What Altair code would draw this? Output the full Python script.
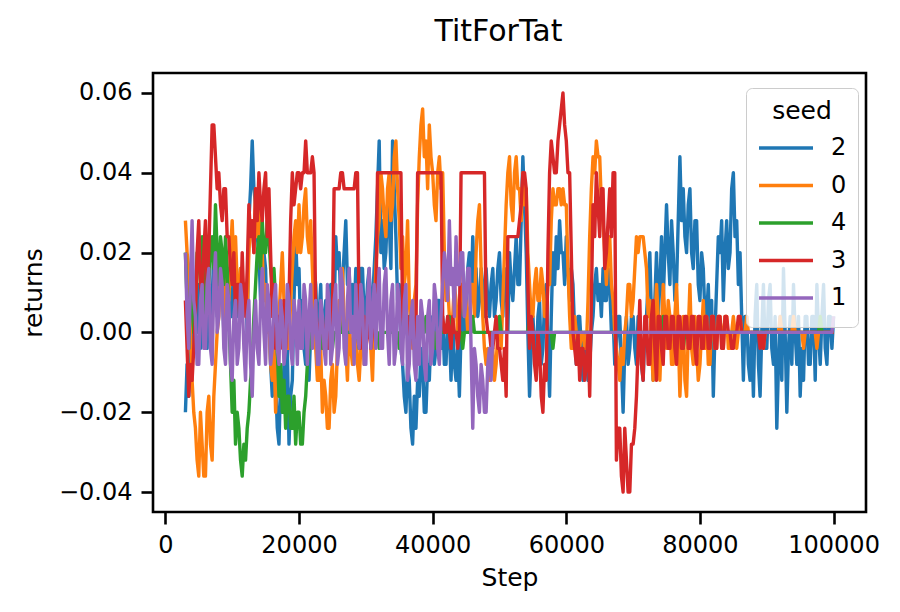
import altair as alt
import pandas as pd

steps = list(range(3000, 100001, 250))

seed_2 = [
    -0.020, -0.008, -0.016, -0.004, 0.004, -0.004, 0.008, 0.000, 0.012, -0.004, 0.004, 0.016, 0.008, -0.004, 0.012, 0.004, 0.008, 0.020, 0.016, 0.004,
    0.008, 0.020, 0.012, 0.000, 0.004, 0.012, 0.016, 0.004, 0.004, 0.020, 0.016, 0.004, 0.008, 0.016, 0.004, 0.012, 0.012, 0.000, 0.028, 0.036,
    0.048, 0.036, 0.032, 0.024, 0.020, 0.008, 0.012, 0.020, 0.016, 0.000, 0.004, -0.008, -0.016, -0.004, -0.012, -0.024, -0.028, -0.012, -0.020, -0.008,
    -0.016, -0.004, -0.028, -0.016, -0.012, 0.008, 0.024, 0.012, 0.016, 0.000, 0.008, -0.004, -0.008, 0.004, -0.012, 0.000, 0.008, 0.016, 0.012, 0.000,
    0.004, 0.012, -0.004, 0.004, 0.008, -0.004, 0.004, 0.012, 0.012, 0.004, 0.024, 0.016, 0.020, 0.008, 0.012, 0.020, 0.028, 0.012, 0.016, 0.004,
    0.012, 0.004, 0.016, 0.008, 0.008, 0.016, 0.016, 0.004, 0.004, 0.012, 0.016, 0.004, 0.008, 0.016, 0.024, 0.036, 0.048, 0.020, 0.028, 0.016,
    0.020, 0.032, 0.028, 0.016, 0.048, 0.036, 0.024, 0.008, 0.012, -0.004, -0.008, -0.016, -0.020, -0.008, -0.012, -0.024, -0.028, -0.016, -0.024, -0.012,
    -0.016, -0.004, -0.008, -0.020, -0.020, -0.008, -0.012, 0.000, 0.004, -0.008, -0.004, 0.008, 0.008, -0.004, 0.004, -0.008, -0.008, 0.004, 0.000, -0.012,
    0.004, -0.008, -0.012, -0.004, -0.016, 0.000, 0.012, 0.000, 0.004, 0.016, 0.020, 0.008, 0.024, 0.012, 0.016, 0.004, 0.008, 0.016, 0.012, 0.004,
    0.016, 0.008, 0.004, 0.012, 0.016, 0.004, 0.008, 0.016, 0.020, 0.008, 0.004, 0.016, 0.012, 0.000, 0.020, 0.012, 0.008, 0.016, 0.024, 0.012,
    0.012, 0.028, 0.044, 0.032, 0.020, 0.000, -0.016, -0.004, 0.004, -0.004, -0.008, 0.004, 0.008, -0.008, -0.004, 0.008, 0.012, -0.004, -0.016, 0.004,
    0.020, 0.012, 0.024, 0.016, 0.028, 0.020, 0.020, 0.012, 0.024, 0.016, 0.008, 0.016, 0.012, 0.000, -0.008, 0.004, 0.004, -0.004, -0.012, 0.000,
    -0.004, -0.012, -0.008, 0.000, 0.004, 0.012, 0.016, 0.008, 0.012, 0.004, 0.016, 0.008, 0.008, 0.016, 0.012, 0.000, 0.004, -0.008, -0.004, 0.004,
    0.004, -0.008, -0.020, -0.004, 0.004, -0.008, -0.004, 0.004, 0.004, -0.004, -0.008, 0.004, 0.004, -0.008, -0.012, 0.000, 0.004, 0.012, 0.020, 0.004,
    -0.012, 0.008, 0.020, 0.004, 0.012, 0.024, 0.008, 0.020, 0.032, 0.020, 0.012, 0.028, 0.020, 0.008, 0.012, 0.028, 0.044, 0.028, 0.036, 0.024,
    0.020, 0.032, 0.036, 0.020, 0.016, 0.028, 0.028, 0.012, 0.008, 0.020, 0.016, 0.004, 0.004, 0.012, -0.004, 0.008, -0.016, 0.000, 0.012, 0.024,
    0.020, 0.028, 0.008, 0.020, 0.028, 0.016, 0.020, 0.036, 0.040, 0.024, 0.028, 0.012, 0.020, 0.004, -0.012, 0.004, 0.004, -0.008, -0.012, 0.000,
    -0.016, 0.004, 0.012, -0.008, -0.016, 0.000, 0.012, -0.004, -0.004, 0.008, 0.012, -0.004, -0.008, 0.004, -0.024, -0.008, 0.004, -0.012, 0.016, 0.000,
    -0.020, -0.004, 0.004, -0.008, 0.012, 0.000, -0.008, 0.004, -0.016, -0.004, -0.012, 0.004, 0.004, -0.008, -0.008, 0.004, 0.004, -0.012, 0.012, 0.000,
    -0.008, 0.004, 0.012, -0.004, -0.008, 0.004, 0.004, -0.004, 0.004,
]

seed_0 = [
    0.028, 0.020, 0.016, 0.000, -0.012, -0.020, -0.024, -0.032, -0.036, -0.020, -0.028, -0.036, -0.036, -0.020, -0.016, -0.028, -0.032, -0.016, -0.008, 0.000,
    0.004, 0.016, 0.012, 0.004, 0.020, 0.012, 0.008, 0.020, 0.028, 0.016, 0.024, 0.012, 0.008, 0.016, 0.004, 0.012, 0.012, 0.004, 0.020, 0.028,
    0.028, 0.020, 0.036, 0.024, 0.032, 0.016, 0.020, 0.008, 0.012, 0.000, 0.004, -0.008, -0.012, -0.004, -0.020, -0.008, 0.004, 0.012, 0.020, 0.008,
    0.008, -0.004, -0.004, 0.008, 0.016, 0.024, 0.028, 0.020, 0.032, 0.020, 0.024, 0.032, 0.036, 0.024, 0.020, 0.028, 0.016, 0.004, -0.004, -0.012,
    -0.012, -0.004, -0.020, -0.012, -0.016, -0.024, -0.024, -0.012, -0.008, -0.020, -0.016, -0.004, 0.008, 0.000, 0.016, 0.004, -0.004, -0.012, 0.004, -0.004,
    -0.008, 0.000, 0.004, -0.008, -0.012, -0.004, 0.004, -0.008, -0.004, 0.004, 0.008, -0.004, -0.012, 0.004, 0.016, 0.024, 0.028, 0.040, 0.036, 0.028,
    0.024, 0.036, 0.040, 0.028, 0.032, 0.044, 0.048, 0.036, 0.028, 0.016, 0.024, 0.012, 0.016, 0.028, 0.008, 0.000, -0.004, 0.008, 0.012, 0.032,
    0.044, 0.052, 0.056, 0.044, 0.048, 0.036, 0.052, 0.044, 0.040, 0.032, 0.028, 0.040, 0.044, 0.036, 0.040, 0.020, 0.008, 0.012, 0.004, 0.000,
    0.004, 0.012, 0.008, 0.000, 0.004, 0.012, 0.012, 0.004, 0.008, 0.000, 0.004, 0.012, 0.012, 0.004, 0.020, 0.028, 0.032, 0.016, 0.004, -0.004,
    -0.008, -0.004, -0.012, -0.004, -0.004, -0.012, -0.008, 0.000, 0.004, -0.004, 0.008, 0.020, 0.032, 0.040, 0.044, 0.032, 0.028, 0.040, 0.044, 0.036,
    0.036, 0.028, 0.040, 0.032, 0.036, 0.020, 0.012, 0.004, 0.004, 0.012, 0.016, 0.008, 0.008, 0.016, 0.012, 0.004, 0.004, 0.012, 0.012, 0.028,
    0.036, 0.032, 0.032, 0.036, 0.036, 0.032, 0.036, 0.032, 0.032, 0.016, 0.004, -0.004, -0.004, 0.004, 0.000, -0.004, -0.004, 0.000, 0.000, -0.004,
    -0.004, 0.008, 0.024, 0.036, 0.044, 0.040, 0.048, 0.044, 0.044, 0.032, 0.028, 0.020, 0.012, 0.020, 0.024, 0.012, 0.008, 0.000, -0.004, -0.008,
    -0.012, -0.004, -0.008, 0.000, 0.004, 0.012, 0.012, 0.004, 0.008, 0.016, 0.024, 0.020, 0.024, 0.024, 0.024, 0.020, 0.016, 0.004, 0.008, -0.004,
    -0.012, 0.000, 0.012, 0.004, -0.012, 0.000, 0.012, 0.004, -0.004, 0.008, 0.004, -0.008, -0.008, 0.004, 0.012, 0.000, -0.016, -0.004, 0.004, -0.012,
    -0.016, 0.000, 0.012, -0.004, -0.008, 0.004, -0.004, -0.012, -0.008, 0.000, 0.008, -0.004, 0.004, -0.008, -0.008, 0.004, 0.004, -0.004, -0.004, 0.004,
    0.004, 0.000, -0.004, 0.004, 0.004, -0.004, -0.004, 0.000, 0.004, 0.000, -0.004, 0.000, 0.004, 0.000, 0.000, 0.000, 0.004, 0.000, 0.000, 0.000,
    0.000, 0.000, 0.000, 0.000, 0.000, 0.000, -0.004, 0.000, 0.000, 0.000, 0.000, 0.000, 0.000, 0.000, 0.000, 0.000, 0.004, 0.000, 0.000, 0.000,
    0.000, 0.000, 0.000, 0.000, 0.004, 0.000, 0.000, 0.000, 0.000, 0.000, -0.004, 0.000, 0.000, 0.000, 0.000, 0.000, 0.000, 0.000, -0.004, 0.000,
    0.000, 0.000, 0.000, 0.000, 0.000, 0.000, 0.000, 0.000, 0.000,
]

seed_4 = [
    0.020, 0.008, -0.004, 0.008, 0.016, 0.000, 0.008, 0.020, 0.020, 0.012, 0.024, 0.012, 0.004, 0.016, 0.012, 0.020, 0.024, 0.016, 0.032, 0.020,
    0.012, 0.024, 0.020, 0.012, 0.024, 0.016, 0.004, -0.008, -0.020, -0.012, -0.028, -0.020, -0.024, -0.032, -0.036, -0.028, -0.032, -0.024, -0.020, -0.012,
    -0.008, 0.004, 0.012, 0.020, 0.024, 0.016, 0.028, 0.020, 0.020, 0.028, 0.024, 0.016, 0.012, 0.016, 0.008, -0.004, -0.016, -0.008, -0.020, -0.012,
    -0.024, -0.016, -0.016, -0.024, -0.024, -0.016, -0.028, -0.020, -0.020, -0.028, -0.028, -0.020, -0.016, -0.008, -0.004, 0.000, 0.004, 0.000, 0.000, 0.000,
    0.000, 0.000, -0.004, 0.000, 0.000, 0.000, 0.004, 0.000, -0.004, 0.000, 0.000, 0.000, 0.004, 0.000, 0.000, 0.000, 0.000, 0.000, 0.000, 0.000,
    0.000, 0.000, 0.000, 0.000, -0.004, 0.000, 0.000, 0.000, 0.000, 0.000, 0.004, 0.000, 0.000, 0.000, 0.000, 0.000, -0.004, 0.000, 0.000, 0.000,
    0.000, 0.000, 0.004, 0.000, 0.000, 0.000, 0.000, 0.000, -0.004, 0.000, 0.000, 0.000, 0.000, 0.000, 0.004, 0.000, 0.000, 0.000, 0.000, 0.000,
    0.000, 0.000, 0.000, 0.000, 0.004, 0.000, 0.000, 0.000, 0.000, 0.000, -0.004, 0.000, 0.000, 0.000, 0.000, 0.000, 0.000, 0.000, 0.004, 0.000,
    0.000, 0.000, 0.000, 0.000, 0.000, 0.000, -0.004, 0.000, 0.000, 0.000, 0.000, 0.000, 0.004, 0.000, 0.000, 0.000, 0.000, 0.000, 0.000, 0.000,
    0.000, 0.000, 0.000, 0.000, 0.000, 0.000, 0.000, 0.000, 0.004, 0.000, 0.000, 0.000, 0.000, 0.000, 0.000, 0.000, 0.000, 0.000, 0.000, 0.000,
    0.000, 0.000, 0.000, 0.000, 0.000, 0.000, 0.004, 0.000, 0.000, 0.000, 0.000, 0.000, 0.000, 0.000, 0.000, 0.000, 0.000, 0.000, 0.000, 0.000,
    -0.004, 0.000, 0.000, 0.000, 0.000, 0.000, 0.000, 0.000, 0.000, 0.000, 0.000, 0.000, 0.000, 0.000, 0.000, 0.000, 0.000, 0.000, 0.000, 0.000,
    0.000, 0.000, 0.000, 0.000, 0.000, 0.000, 0.000, 0.000, 0.000, 0.000, 0.000, 0.000, 0.000, 0.000, 0.000, 0.000, 0.000, 0.000, 0.000, 0.000,
    0.000, 0.000, 0.000, 0.000, 0.000, 0.000, 0.000, 0.000, 0.000, 0.000, 0.000, 0.000, 0.000, 0.000, 0.000, 0.000, 0.000, 0.000, 0.000, 0.000,
    0.000, 0.000, 0.000, 0.000, 0.000, 0.000, 0.004, 0.000, 0.000, 0.000, 0.000, 0.000, 0.000, 0.000, 0.000, 0.000, 0.000, 0.000, -0.004, 0.000,
    0.000, 0.000, 0.000, 0.000, 0.000, 0.000, 0.000, 0.000, 0.000, 0.000, 0.000, 0.000, 0.000, 0.000, 0.000, 0.000, 0.000, 0.000, 0.000, 0.000,
    0.000, 0.000, 0.000, 0.000, 0.000, 0.000, 0.000, 0.000, 0.000, 0.000, 0.000, 0.000, 0.000, 0.000, 0.000, 0.000, 0.000, 0.000, 0.000, 0.000,
    0.000, 0.000, 0.000, 0.000, 0.000, 0.000, 0.000, 0.000, 0.000, 0.000, 0.000, 0.000, 0.000, 0.000, 0.000, 0.000, 0.000, 0.000, 0.000, 0.000,
    0.000, 0.000, 0.000, 0.000, 0.000, 0.000, 0.000, 0.000, 0.000, 0.000, 0.000, 0.000, 0.000, 0.000, 0.000, 0.000, 0.000, 0.000, 0.000, 0.000,
    0.004, 0.000, 0.000, 0.000, 0.000, 0.000, 0.000, 0.000, 0.000,
]

seed_3 = [
    0.008, -0.004, -0.016, -0.008, -0.012, -0.004, 0.004, 0.020, 0.028, 0.012, 0.008, 0.020, 0.028, 0.012, 0.020, 0.036, 0.052, 0.052, 0.044, 0.036,
    0.040, 0.032, 0.028, 0.036, 0.036, 0.024, 0.024, 0.016, 0.012, 0.020, 0.004, 0.012, 0.012, 0.004, 0.020, 0.008, 0.004, 0.016, 0.032, 0.024,
    0.028, 0.020, 0.036, 0.028, 0.040, 0.032, 0.028, 0.036, 0.040, 0.024, 0.036, 0.020, 0.004, 0.012, -0.004, 0.004, 0.004, -0.004, 0.000, 0.008,
    -0.004, 0.004, 0.008, 0.028, 0.040, 0.032, 0.036, 0.040, 0.040, 0.036, 0.040, 0.040, 0.048, 0.040, 0.040, 0.040, 0.044, 0.040, 0.004, 0.000,
    0.000, 0.004, 0.004, -0.004, 0.000, 0.004, -0.004, 0.000, 0.004, 0.036, 0.036, 0.036, 0.036, 0.040, 0.040, 0.036, 0.036, 0.036, 0.036, 0.036,
    0.036, 0.036, 0.040, 0.040, 0.004, -0.004, 0.000, 0.004, -0.004, 0.000, 0.004, -0.004, 0.000, 0.004, 0.004, 0.040, 0.040, 0.040, 0.040, 0.040,
    0.040, 0.040, 0.040, 0.040, 0.040, 0.040, 0.040, 0.040, 0.040, 0.040, 0.004, 0.000, 0.000, 0.004, -0.004, 0.000, 0.004, -0.004, 0.000, 0.040,
    0.040, 0.040, 0.040, 0.040, 0.040, 0.040, 0.040, 0.040, 0.040, 0.040, 0.040, 0.040, 0.040, 0.040, 0.004, 0.000, 0.000, 0.004, 0.000, -0.004,
    0.004, 0.000, 0.000, -0.004, 0.000, 0.040, 0.040, 0.040, 0.040, 0.040, 0.040, 0.040, 0.040, 0.040, 0.040, 0.040, 0.040, 0.040, 0.040, 0.040,
    0.004, 0.000, 0.000, -0.004, -0.004, 0.000, 0.004, -0.004, -0.004, -0.008, -0.012, -0.004, -0.016, 0.024, 0.024, 0.024, 0.024, 0.024, 0.024, 0.024,
    0.028, 0.032, 0.040, 0.040, 0.036, 0.012, -0.004, 0.004, 0.000, -0.008, -0.012, 0.000, -0.004, -0.016, -0.020, -0.008, -0.012, 0.020, 0.040, 0.048,
    0.044, 0.040, 0.040, 0.048, 0.052, 0.056, 0.060, 0.052, 0.048, 0.040, 0.040, 0.020, 0.000, -0.004, -0.008, 0.000, -0.012, -0.004, -0.004, -0.012,
    -0.008, 0.000, -0.016, 0.008, 0.032, 0.024, 0.040, 0.032, 0.024, 0.036, 0.036, 0.016, 0.020, 0.028, 0.036, 0.024, 0.040, 0.040, -0.032, -0.024,
    -0.024, -0.036, -0.040, -0.024, -0.032, -0.040, -0.040, -0.028, -0.028, -0.024, -0.016, -0.004, 0.008, -0.008, -0.012, 0.004, 0.004, -0.008, -0.008, 0.004,
    0.008, -0.004, -0.012, 0.004, 0.004, -0.004, -0.008, 0.004, 0.004, -0.004, -0.004, 0.004, 0.004, -0.004, -0.008, 0.004, 0.004, -0.004, -0.004, 0.004,
    0.004, -0.004, -0.004, 0.004, 0.004, -0.004, -0.008, 0.004, 0.004, -0.004, -0.004, 0.004, 0.004, -0.004, -0.004, 0.004, 0.004, -0.004, -0.004, 0.004,
    0.004, -0.004, -0.004, 0.004, 0.004, 0.000, 0.000, -0.004, -0.004, 0.000, 0.000, 0.004, 0.004, 0.000, 0.000, 0.000, 0.000, 0.000, 0.000, 0.000,
    0.000, 0.000, 0.000, 0.000, -0.004, 0.000, -0.004, 0.000, 0.000, 0.000, 0.000, 0.000, 0.000, 0.000, 0.000, 0.000, 0.000, 0.000, 0.000, 0.000,
    0.000, 0.000, 0.000, 0.000, 0.000, 0.000, 0.000, 0.000, 0.000, 0.000, 0.000, 0.000, 0.000, 0.000, 0.000, 0.000, 0.000, 0.000, 0.000, 0.000,
    0.000, 0.000, 0.000, 0.000, 0.000, 0.000, 0.000, 0.000, 0.000,
]

seed_1 = [
    0.020, 0.004, -0.004, 0.012, 0.028, 0.008, 0.004, -0.008, -0.008, 0.008, 0.012, -0.004, -0.004, 0.012, 0.016, -0.004, -0.008, 0.012, 0.020, 0.000,
    0.004, 0.016, 0.012, -0.004, -0.008, 0.012, 0.008, -0.008, -0.012, 0.004, 0.008, -0.008, -0.004, 0.012, 0.008, -0.004, -0.012, 0.004, 0.008, -0.008,
    -0.016, 0.000, 0.008, -0.004, -0.008, 0.008, 0.016, 0.000, -0.008, 0.012, 0.008, -0.008, -0.004, 0.008, 0.012, -0.004, -0.008, 0.008, 0.004, -0.008,
    -0.004, 0.012, 0.008, -0.004, -0.008, 0.008, 0.004, -0.008, 0.008, -0.004, -0.004, 0.012, 0.008, -0.008, 0.004, 0.012, -0.004, 0.004, 0.008, -0.008,
    -0.008, 0.008, 0.004, -0.004, -0.008, 0.012, 0.008, -0.008, -0.004, 0.008, 0.012, -0.008, -0.004, 0.016, 0.012, -0.004, -0.008, 0.008, 0.016, 0.000,
    0.004, -0.008, 0.012, 0.000, -0.004, 0.012, 0.008, -0.008, -0.008, 0.008, 0.016, -0.004, 0.004, 0.012, -0.004, 0.008, 0.016, -0.004, -0.004, 0.012,
    0.016, 0.000, -0.008, 0.008, 0.012, -0.008, -0.004, 0.012, 0.008, -0.004, -0.008, 0.008, 0.012, -0.012, -0.008, 0.004, 0.008, -0.008, -0.012, 0.004,
    -0.008, 0.008, 0.004, -0.008, -0.012, 0.004, 0.008, -0.008, -0.004, 0.012, 0.008, -0.004, -0.008, 0.004, 0.012, 0.020, 0.016, 0.008, 0.028, 0.012,
    0.016, 0.004, 0.024, 0.012, 0.012, 0.020, 0.020, 0.004, 0.008, 0.016, 0.016, -0.004, -0.024, -0.004, -0.008, -0.016, -0.020, -0.008, -0.012, -0.020,
    -0.020, -0.008, -0.004, -0.012, 0.000, 0.000, 0.000, 0.000, 0.000, 0.000, 0.000, 0.000, 0.000, 0.000, 0.000, 0.000, 0.000, 0.000, 0.000, 0.000,
    0.000, 0.000, 0.000, 0.000, 0.000, 0.000, 0.000, 0.000, 0.000, 0.000, 0.000, 0.000, 0.000, 0.000, 0.000, 0.000, 0.000, 0.000, 0.000, 0.000,
    0.000, 0.000, 0.000, 0.000, 0.000, 0.000, 0.000, 0.000, 0.000, 0.000, 0.000, 0.000, 0.000, 0.000, 0.000, 0.000, 0.000, 0.000, 0.000, 0.000,
    0.000, 0.000, 0.000, 0.000, 0.000, 0.000, 0.000, 0.000, 0.000, 0.000, 0.000, 0.000, 0.000, 0.000, 0.000, 0.000, 0.000, 0.000, 0.000, 0.000,
    0.000, 0.000, 0.000, 0.000, 0.000, 0.000, 0.000, 0.000, 0.000, 0.000, 0.000, 0.000, 0.000, 0.000, 0.000, 0.000, 0.000, 0.000, 0.000, 0.000,
    0.000, 0.000, 0.000, 0.000, 0.000, 0.000, 0.000, 0.000, 0.000, 0.000, 0.000, 0.000, 0.000, 0.000, 0.000, 0.000, 0.000, 0.000, 0.000, 0.000,
    0.000, 0.000, 0.000, 0.000, 0.000, 0.000, 0.000, 0.000, 0.000, 0.000, 0.000, 0.000, 0.000, 0.000, 0.000, 0.000, 0.000, 0.000, 0.000, 0.000,
    0.000, 0.000, 0.000, 0.000, 0.000, 0.000, 0.000, 0.000, 0.000, 0.000, 0.000, 0.000, 0.000, 0.000, 0.000, 0.000, 0.000, 0.000, 0.000, 0.000,
    0.000, 0.000, 0.000, 0.000, 0.000, 0.000, 0.000, 0.000, 0.000, 0.000, 0.000, 0.000, 0.000, 0.000, 0.000, 0.000, 0.000, 0.000, 0.000, 0.000,
    0.000, 0.000, 0.000, 0.000, 0.000, 0.000, 0.000, 0.000, 0.000, 0.000, 0.000, 0.000, 0.000, 0.000, 0.000, 0.000, 0.000, 0.000, 0.000, 0.000,
    0.000, 0.000, 0.000, 0.000, 0.000, 0.000, 0.000, 0.000, 0.004,
]

seed_order = ["2", "0", "4", "3", "1"]
seed_colors = ["#1f77b4", "#ff7f0e", "#2ca02c", "#d62728", "#9467bd"]
series = [seed_2, seed_0, seed_4, seed_3, seed_1]

x_ticks = [0, 20000, 40000, 60000, 80000, 100000]
y_ticks = [-0.04, -0.02, 0.0, 0.02, 0.04, 0.06]

rows = []
for seed, vals in zip(seed_order, series):
    for s, v in zip(steps, vals):
        rows.append({"Step": s, "returns": v, "seed": seed})
df = pd.DataFrame(rows)

FONT = "DejaVu Sans"
LINE_W = 3.4

x_enc = alt.X(
    "Step:Q",
    scale=alt.Scale(domain=[-1850, 104850], nice=False, zero=False),
    axis=alt.Axis(values=x_ticks, format="d", title="Step", labelFlush=False,
                  labelOverlap=False, labelPadding=9, titlePadding=8),
)
y_enc = alt.Y(
    "returns:Q",
    scale=alt.Scale(domain=[-0.045, 0.065], nice=False, zero=False),
    axis=alt.Axis(values=y_ticks, title="returns", labelPadding=9, titlePadding=12,
                  labelExpr="replace(format(datum.value, '.2f'), '-', '\u2212')"),
)
color_enc = alt.Color(
    "seed:N",
    scale=alt.Scale(domain=seed_order, range=seed_colors),
    legend=alt.Legend(
        title="seed", orient="none", legendX=593, legendY=15,
        symbolType="stroke", symbolSize=2916, symbolStrokeWidth=LINE_W,
        labelFontSize=24, titleFontSize=25, titleFontWeight="normal",
        titleAnchor="middle", labelFont=FONT, titleFont=FONT,
        labelColor="black", titleColor="black", labelOffset=16,
        fillColor="rgba(255,255,255,0.8)", strokeColor="#cccccc",
        cornerRadius=6, padding=11, rowPadding=1.5, titlePadding=6,
        clipHeight=36,
    ),
)

layers = []
for seed in seed_order:
    layers.append(
        alt.Chart(df)
        .transform_filter(alt.datum.seed == seed)
        .mark_line(strokeWidth=LINE_W, strokeJoin="round")
        .encode(x=x_enc, y=y_enc, color=color_enc)
    )

chart = (
    alt.layer(*layers)
    .properties(
        width=713, height=439,
        title=alt.TitleParams("TitForTat", fontSize=30, font=FONT, fontWeight="normal",
                              anchor="middle", frame="group", baseline="alphabetic",
                              offset=0, dx=-11, dy=-2, color="black"),
        autosize=alt.AutoSizeParams(type="none"),
        padding={"left": 145, "top": 65, "right": 26, "bottom": 92},
    )
    .configure_axis(
        labelFont=FONT, titleFont=FONT, labelFontSize=24, titleFontSize=25,
        titleFontWeight="normal", labelColor="black", titleColor="black",
        tickColor="black", tickWidth=2.6, tickSize=12, domain=False, grid=False,
    )
    .configure_view(stroke="black", strokeWidth=2.6)
)

chart.save("out.html", embed_options={"renderer": "svg", "actions": False})
